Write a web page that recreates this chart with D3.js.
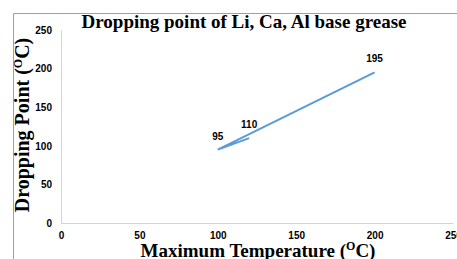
<!DOCTYPE html>
<html>
<head>
<meta charset="utf-8">
<script src="https://cdn.jsdelivr.net/npm/d3@7"></script>
<style>
  body { margin: 0; background: #fff; }
  svg { display: block; }
  .tick text { font-family: "Liberation Sans", Arial, sans-serif; font-weight: bold; font-size: 10px; fill: #000; }
  .ttl { font-family: "Liberation Serif", "Times New Roman", serif; font-weight: bold; fill: #000; }
</style>
</head>
<body>
<div id="chart"></div>
<script>
// data
var temps = [120, 100, 200];
var dropPoints = [110, 95, 195];
var xTicks = [0, 50, 100, 150, 200, 250];
var yTicks = [0, 50, 100, 150, 200, 250];

var width = 457, height = 259;
var margin = {top: 30, right: 4, bottom: 36, left: 61};

var svg = d3.select("#chart")
  .append("svg")
    .attr("width", width)
    .attr("height", height);

// outer frame (only top and left visible)
svg.append("path")
  .attr("d", "M13.5," + height + "V13.5H" + width)
  .attr("fill", "none")
  .attr("stroke", "#a0a0a0")
  .attr("stroke-width", 1);

var x = d3.scaleLinear()
  .domain([0, 250])
  .range([margin.left, width - margin.right]);

var y = d3.scaleLinear()
  .domain([0, 250])
  .range([height - margin.bottom, margin.top]);

// X axis
var xAxis = svg.append("g")
  .attr("transform", "translate(0," + y(0) + ")")
  .call(d3.axisBottom(x).tickValues(xTicks).tickSize(0).tickPadding(9));
xAxis.select(".domain").attr("stroke", "#d4d4d4").attr("stroke-width", 1);

// Y axis
var yAxis = svg.append("g")
  .attr("transform", "translate(" + x(0) + ",0)")
  .call(d3.axisLeft(y).tickValues(yTicks).tickSize(0).tickPadding(9));
yAxis.select(".domain").attr("stroke", "#d4d4d4").attr("stroke-width", 1);

// the series line
var pts = temps.map(function(t, i) { return {t: t, d: dropPoints[i]}; });

var line = d3.line()
  .x(function(p) { return x(p.t); })
  .y(function(p) { return y(p.d); });

svg.append("path")
  .datum(pts)
  .attr("d", line)
  .attr("fill", "none")
  .attr("stroke", "#5b9bd5")
  .attr("stroke-width", 2);

// data labels
svg.selectAll(".lbl")
  .data(pts)
  .enter()
  .append("text")
    .attr("class", "lbl")
    .attr("x", function(p) { return x(p.t); })
    .attr("y", function(p) { return y(p.d) - 10; })
    .attr("text-anchor", "middle")
    .style("font-family", "Liberation Sans, Arial, sans-serif")
    .style("font-weight", "bold")
    .style("font-size", "10px")
    .text(function(p) { return p.d; });

// title
svg.append("text")
  .attr("class", "ttl")
  .attr("x", 244)
  .attr("y", 28)
  .attr("text-anchor", "middle")
  .style("font-size", "19px")
  .text("Dropping point of Li, Ca, Al base grease");

// x axis title
var xt = svg.append("text")
  .attr("class", "ttl")
  .attr("x", 258)
  .attr("y", 257)
  .attr("text-anchor", "middle")
  .style("font-size", "19px")
  .text("Maximum Temperature (");
xt.append("tspan").attr("dy", -7).style("font-size", "12px").text("O");
xt.append("tspan").attr("dy", 7).text("C)");

// y axis title
var yt = svg.append("text")
  .attr("class", "ttl")
  .attr("transform", "translate(29,125) rotate(-90)")
  .attr("text-anchor", "middle")
  .style("font-size", "20px")
  .text("Dropping Point (");
yt.append("tspan").attr("dy", -7).style("font-size", "12px").text("O");
yt.append("tspan").attr("dy", 7).text("C)");
</script>
</body>
</html>
